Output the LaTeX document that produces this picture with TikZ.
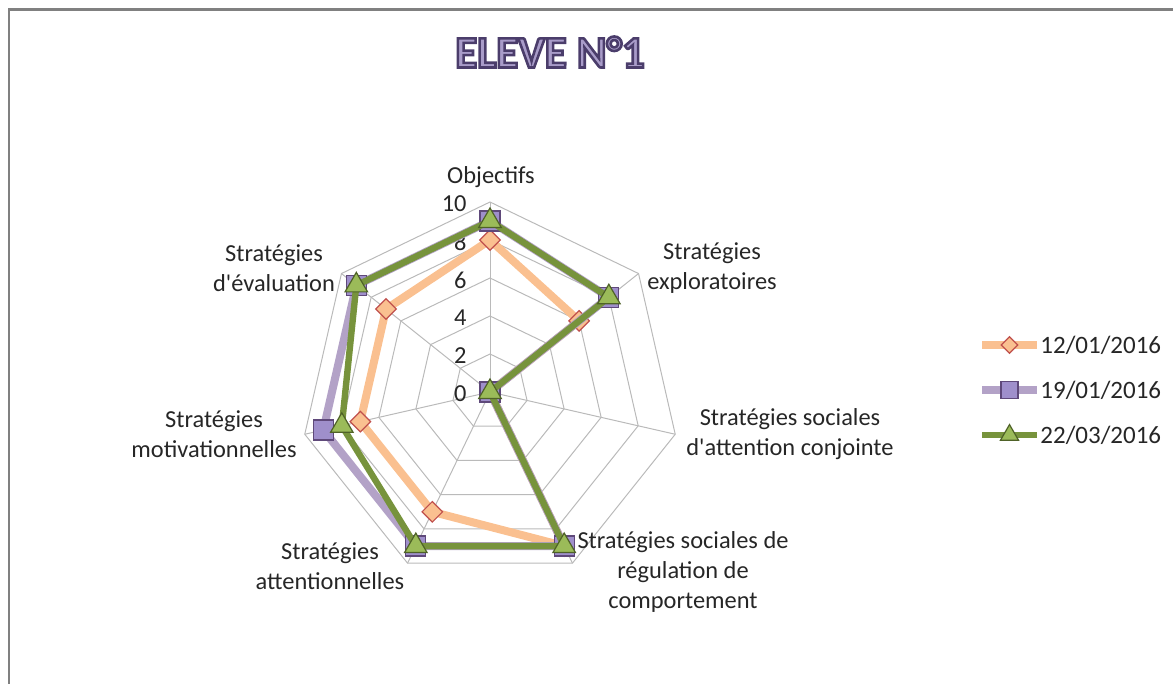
\documentclass[tikz,border=0pt]{standalone}
\usepackage{fontspec}
\setmainfont{Carlito}
\newfontfamily\chartfont{Carlito}
\usetikzlibrary{shapes.geometric}
\definecolor{peach}{HTML}{FAC090}
\definecolor{brick}{HTML}{C0504D}
\definecolor{lilac}{HTML}{B3A2C7}
\definecolor{lilacfill}{HTML}{9F8FCB}
\definecolor{plum}{HTML}{5F497A}
\definecolor{olive}{HTML}{77933C}
\definecolor{leaf}{HTML}{9BBB59}
\definecolor{moss}{HTML}{4F6228}
\definecolor{titlefill}{HTML}{A99CC9}
% outlined title letters (fill + stroke)
\newcommand{\outlined}[1]{\special{pdf:literal direct 2 Tr 1.3 w 0.294 0.239 0.42 RG}#1\special{pdf:literal direct 0 Tr}}

\begin{document}
\begin{tikzpicture}[x=0.5pt,y=0.5pt,
    frame line/.style={draw=black!50,line width=1.2pt},
    web/.style={draw=black!27,line width=0.5pt},
    axis label/.style={align=center,text=black!85,inner sep=0pt,font=\chartfont\fontsize{12.2}{15}\selectfont},
    tick/.style={anchor=east,text=black!85,inner sep=0pt,font=\chartfont\fontsize{12.2}{15}\selectfont},
    legend text/.style={anchor=west,text=black!85,inner sep=0pt,font=\chartfont\fontsize{12.5}{15}\selectfont},
    title text/.style={text=titlefill,font=\chartfont\fontsize{22.5}{26}\selectfont\bfseries},
    serie A/.style={draw=peach,line width=4pt,line join=round},
    serie B/.style={draw=lilac,line width=4pt,line join=round},
    serie C/.style={draw=olive,line width=3.2pt,line join=round},
    dot A/.style={diamond,aspect=1,fill=peach,draw=brick,line width=0.6pt,minimum size=10.5pt,inner sep=0pt},
    dot B/.style={rectangle,fill=lilacfill,draw=plum,line width=0.6pt,minimum size=10pt,inner sep=0pt},
    dot C/.style={regular polygon,regular polygon sides=3,fill=leaf,draw=moss,line width=0.6pt,minimum size=13pt,inner sep=0pt}]

  \useasboundingbox (0,0) rectangle (1173,684);
  \draw[frame line] (9,0) -- (9,674.5) -- (1173,674.5);

  \node[title text] (title) at (550,632) {\outlined{ELEVE N°1}};

  \begin{scope}[shift={(490,292)}]
    % web
    \foreach \r in {2,4,...,10}
      \draw[web] (90:\r*19) \foreach \k in {1,...,6}{ -- ({90-\k*360/7}:\r*19)} -- cycle;
    \foreach \k in {0,...,6}
      \draw[web] (0,0) -- ({90-\k*360/7}:190);

    \foreach \v in {0,2,...,10}
      \node[tick] (tick\v) at (-23,\v*19-2) {\v};

    \node[axis label] (obj) at (1,215) {Objectifs};
    \node[axis label] (expl) at (222,124) {Stratégies\\exploratoires};
    \node[axis label] (conj) at (300,-42) {Stratégies sociales\\d'attention conjointe};
    \node[axis label] (regul) at (193,-180) {Stratégies sociales de\\régulation de\\comportement};
    \node[axis label] (attn) at (-160,-174) {Stratégies\\attentionnelles};
    \node[axis label] (motiv) at (-276,-42) {Stratégies\\motivationnelles};
    \node[axis label] (eval) at (-216,124) {Stratégies\\d'évaluation};

    % 12/01/2016
    \foreach \v [count=\k from 0] in {8,6,0,9,7,7,7}
      \coordinate (a\k) at ({90-\k*360/7}:\v*19);
    \draw[serie A] (a0) -- (a1) -- (a2) -- (a3) -- (a4) -- (a5) -- (a6) -- cycle;
    \foreach \k in {0,...,6}
      \node[dot A] (da\k) at (a\k) {};

    % 19/01/2016
    \foreach \v [count=\k from 0] in {9,8,0,9,9,9,9}
      \coordinate (b\k) at ({90-\k*360/7}:\v*19);
    \draw[serie B] (b0) -- (b1) -- (b2) -- (b3) -- (b4) -- (b5) -- (b6) -- cycle;
    \foreach \k in {0,...,6}
      \node[dot B] (db\k) at (b\k) {};

    % 22/03/2016
    \foreach \v [count=\k from 0] in {9,8,0,9,9,8,9}
      \coordinate (c\k) at ({90-\k*360/7}:\v*19);
    \draw[serie C] (c0) -- (c1) -- (c2) -- (c3) -- (c4) -- (c5) -- (c6) -- cycle;
    \foreach \k in {0,...,6}
      \node[dot C] (dc\k) at (c\k) {};
  \end{scope}

  % legend
  \coordinate (la) at (982,339);  \coordinate (lb) at (1037,339);
  \draw[serie A] (la) -- (lb);
  \node[dot A,scale=0.8] (lga) at (1009.5,339) {};
  \node[legend text] (txa) at (1040,339) {12/01/2016};

  \coordinate (ma) at (982,294);  \coordinate (mb) at (1037,294);
  \draw[serie B] (ma) -- (mb);
  \node[dot B,scale=0.85] (lgb) at (1009.5,294) {};
  \node[legend text] (txb) at (1040,294) {19/01/2016};

  \coordinate (na) at (982,249);  \coordinate (nb) at (1037,249);
  \draw[serie C] (na) -- (nb);
  \node[dot C,scale=0.8] (lgc) at (1009.5,249) {};
  \node[legend text] (txc) at (1040,249) {22/03/2016};
\end{tikzpicture}
\end{document}
